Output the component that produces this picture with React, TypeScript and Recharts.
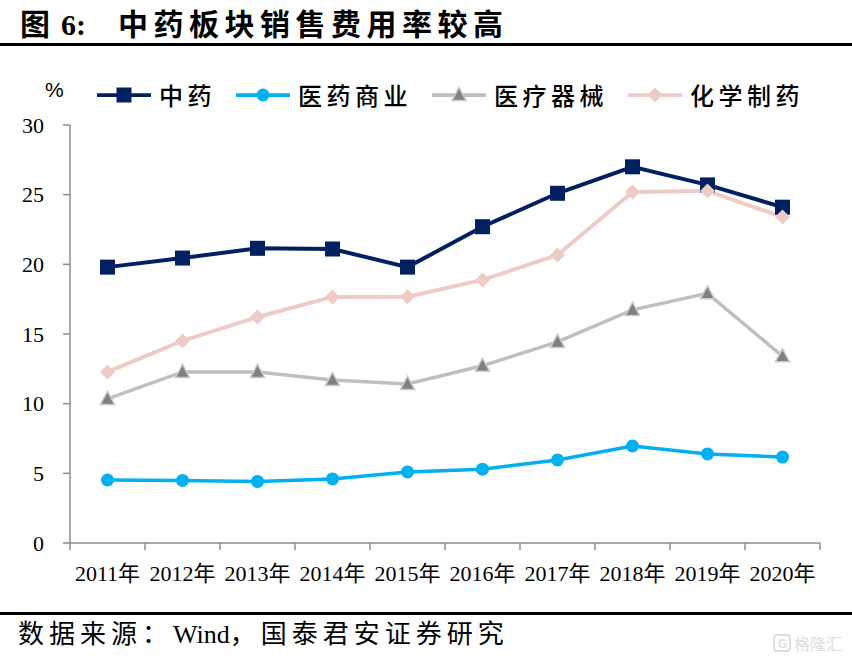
import React from 'react';
import { LineChart, Line, XAxis, YAxis } from 'recharts';

const categories = ['2011年', '2012年', '2013年', '2014年', '2015年', '2016年', '2017年', '2018年', '2019年', '2020年'];
const zhongyao = [19.8, 20.45, 21.15, 21.1, 19.8, 22.7, 25.1, 27.0, 25.7, 24.1];
const yiyaoShangye = [4.52, 4.49, 4.42, 4.6, 5.1, 5.3, 5.96, 6.96, 6.39, 6.17];
const yiliaoQixie = [10.34, 12.28, 12.28, 11.7, 11.42, 12.72, 14.43, 16.73, 17.92, 13.4];
const huaxueZhiyao = [12.28, 14.5, 16.22, 17.66, 17.68, 18.88, 20.67, 25.2, 25.27, 23.4];
const yTicks = [0, 5, 10, 15, 20, 25, 30];

const seriesNames = ['中药', '医药商业', '医疗器械', '化学制药'];
const seriesKeys = ['zy', 'yysy', 'ylqx', 'hxzy'];
const seriesValues = [zhongyao, yiyaoShangye, yiliaoQixie, huaxueZhiyao];
const lineColors = ['#002060', '#00B0F0', '#BFBFBF', '#EDCBC6'];
const markerTypes = ['square', 'circle', 'triangle', 'diamond'];

const data = categories.map((c, i) => {
  const row: any = { pos: i + 0.5, year: c };
  seriesKeys.forEach((k, j) => {
    row[k] = seriesValues[j][i];
  });
  return row;
});

const xTicks: number[] = [];
for (let i = 0; i <= categories.length * 2; i++) xTicks.push(i / 2);

function Marker({ type, cx, cy }: { type: string; cx: number; cy: number }) {
  if (type === 'square') {
    return <rect x={cx - 7.5} y={cy - 7.5} width={15} height={15} fill="#002060" />;
  }
  if (type === 'circle') {
    return <circle cx={cx} cy={cy} r={6.5} fill="#00B0F0" />;
  }
  if (type === 'triangle') {
    return (
      <polygon
        points={`${cx},${cy - 7.5} ${cx - 7},${cy + 5.5} ${cx + 7},${cy + 5.5}`}
        fill="#808080"
        stroke="#C8C8C8"
        strokeWidth={1.5}
      />
    );
  }
  return (
    <polygon
      points={`${cx},${cy - 7.5} ${cx + 7.5},${cy} ${cx},${cy + 7.5} ${cx - 7.5},${cy}`}
      fill="#EDCBC6"
    />
  );
}

const makeDot = (type: string) => (props: any) => {
  const { cx, cy, index } = props;
  if (cx == null || cy == null) return <g key={`d-${type}-${index}`} />;
  return (
    <g key={`d-${type}-${index}`}>
      <Marker type={type} cx={cx} cy={cy} />
    </g>
  );
};

const XTick = (props: any) => {
  const { x, y, payload } = props;
  const v = payload.value;
  if (Number.isInteger(v)) {
    return <line x1={x} x2={x} y1={y} y2={y + 7} stroke="#8c8c8c" strokeWidth={1.5} />;
  }
  return (
    <text
      x={x}
      y={y + 38}
      textAnchor="middle"
      fontSize={22}
      fontFamily="'Liberation Serif', 'Noto Sans CJK SC', serif"
      fill="#000"
    >
      {categories[Math.floor(v)]}
    </text>
  );
};

export default function App() {
  return (
    <div style={{ position: 'absolute', left: 0, top: 0, width: 852, height: 661, background: '#fff', overflow: 'hidden' }}>
      {/* Title */}
      <svg width={852} height={50} style={{ position: 'absolute', left: 0, top: 0 }}>
        <text x={20} y={35} fontFamily="'Noto Sans CJK SC', sans-serif" fontWeight={700} fontSize={30} fill="#000">
          图
        </text>
        <text x={61} y={35} fontFamily="'Liberation Serif', serif" fontWeight={700} fontSize={30} fill="#000">
          6:
        </text>
        <text
          x={118}
          y={35}
          fontFamily="'Noto Sans CJK SC', sans-serif"
          fontWeight={700}
          fontSize={30}
          fill="#000"
          textLength={385}
          lengthAdjust="spacing"
        >
          中药板块销售费用率较高
        </text>
      </svg>
      <div style={{ position: 'absolute', left: 0, top: 43, width: 852, height: 3, background: '#000' }} />

      {/* Unit */}
      <div
        style={{
          position: 'absolute',
          left: 45,
          top: 79,
          fontFamily: "'Liberation Sans', Arial, sans-serif",
          fontSize: 21,
          lineHeight: '21px',
          color: '#000',
        }}
      >
        %
      </div>

      {/* Legend */}
      <div style={{ position: 'absolute', left: 97, top: 83, height: 24, display: 'flex', alignItems: 'center', gap: 20 }}>
        {seriesNames.map((n, i) => (
          <div key={n} style={{ display: 'flex', alignItems: 'center' }}>
            <svg width={54} height={24} style={{ display: 'block' }}>
              <line x1={0} x2={54} y1={12} y2={12} stroke={lineColors[i]} strokeWidth={3.75} />
              <Marker type={markerTypes[i]} cx={27} cy={12} />
            </svg>
            <span
              style={{
                marginLeft: 8,
                fontFamily: "'Noto Sans CJK SC', sans-serif",
                fontWeight: 500,
                fontSize: 24,
                lineHeight: '24px',
                letterSpacing: 4.5,
                color: '#000',
                whiteSpace: 'nowrap',
              }}
            >
              {n}
            </span>
          </div>
        ))}
      </div>

      <div style={{ position: 'absolute', left: 0, top: 0 }}>
        <LineChart width={852} height={661} data={data} margin={{ top: 125, right: 32, bottom: 78, left: 0 }}>
          <XAxis
            dataKey="pos"
            type="number"
            domain={[0, categories.length]}
            ticks={xTicks}
            interval={0}
            tick={<XTick />}
            tickLine={false}
            tickSize={0}
            tickMargin={0}
            height={40}
            axisLine={{ stroke: '#8c8c8c', strokeWidth: 1.5 }}
          />
          <YAxis
            type="number"
            domain={[0, 30]}
            ticks={yTicks}
            interval={0}
            width={70}
            tickSize={7}
            tickMargin={19}
            axisLine={{ stroke: '#8c8c8c', strokeWidth: 1.5 }}
            tickLine={{ stroke: '#8c8c8c', strokeWidth: 1.5 }}
            tick={{ fill: '#000', fontSize: 22, fontFamily: "'Liberation Serif', serif" }}
          />
          {seriesKeys.map((k, i) => (
            <Line
              key={k}
              type="linear"
              dataKey={k}
              name={seriesNames[i]}
              stroke={lineColors[i]}
              strokeWidth={i === 0 || i === 3 ? 4 : 3.5}
              dot={makeDot(markerTypes[i])}
              activeDot={false}
              isAnimationActive={false}
            />
          ))}
        </LineChart>
      </div>

      {/* Source */}
      <div style={{ position: 'absolute', left: 0, top: 612, width: 852, height: 3, background: '#000' }} />
      <div
        style={{
          position: 'absolute',
          left: 18,
          top: 620,
          whiteSpace: 'nowrap',
          fontFamily: "'Liberation Serif', 'Noto Sans CJK SC', serif",
          fontSize: 26,
          lineHeight: '30px',
          color: '#000',
        }}
      >
        <span style={{ letterSpacing: 5 }}>数据来源：</span>
        <span>Wind</span>
        <span style={{ letterSpacing: 5 }}>，国泰君安证券研究</span>
      </div>
      <svg width={76} height={24} style={{ position: 'absolute', left: 772, top: 632 }}>
        <rect x={2} y={3} width={16} height={16} rx={3} fill="none" stroke="#dedede" strokeWidth={2} />
        <text x={6} y={16} fontSize={12} fontWeight={700} fill="#dedede" fontFamily="'Liberation Sans', sans-serif">
          G
        </text>
        <text x={22} y={18} fontSize={16} fill="#dedede" fontFamily="'Noto Sans CJK SC', sans-serif">
          格隆汇
        </text>
      </svg>
    </div>
  );
}
